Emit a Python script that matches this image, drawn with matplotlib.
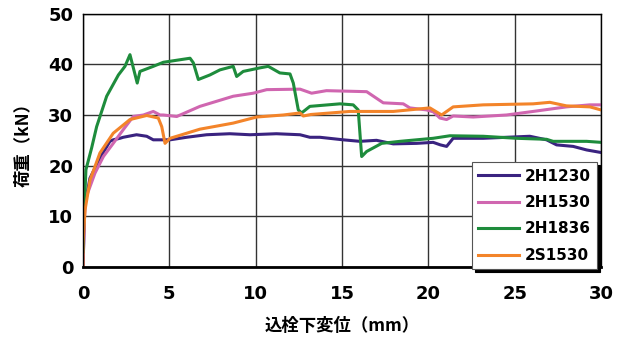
import matplotlib
matplotlib.use("Agg")
import matplotlib.pyplot as plt

plt.rcParams['font.family'] = ['Noto Sans CJK JP', 'DejaVu Sans']

# Load–displacement curves (displacement mm, load kN)
x_2h1230 = [0, 0.1, 0.4, 0.98, 1.56, 1.75, 2.14, 2.33, 3.1, 3.69, 4.07, 5.04, 6.0, 7.16, 8.5,
            9.67, 11.2, 12.57, 13.14, 13.72, 15.07, 16.04, 17.0, 17.97, 19.32, 20.28, 20.7,
            21.06, 21.44, 23.18, 25.88, 26.85, 27.43, 28.39, 29.17, 30.0]
y_2h1230 = [0, 12.0, 17.5, 21.5, 24.8, 25.1, 25.4, 25.6, 26.1, 25.8, 25.1, 25.1, 25.6, 26.1, 26.3,
            26.1, 26.3, 26.1, 25.6, 25.6, 25.1, 24.8, 25.0, 24.3, 24.4, 24.6, 24.1,
            23.8, 25.4, 25.4, 25.8, 25.1, 24.1, 23.8, 23.1, 22.6]

x_2h1530 = [0, 0.05, 0.12, 0.69, 1.18, 1.75, 2.33, 2.91, 3.5, 4.07, 4.46, 4.65, 5.43, 6.77, 8.7,
            9.86, 10.64, 12.57, 13.24, 14.1, 16.43, 17.39, 18.55, 18.93, 19.9, 20.3, 20.67,
            21.06, 21.44, 22.6, 24.53, 26.07, 28.0, 29.36, 30.0]
y_2h1530 = [0, 6.0, 13.2, 18.5, 21.8, 24.4, 27.1, 29.7, 30.0, 30.7, 30.0, 30.0, 29.7, 31.7, 33.7,
            34.3, 35.0, 35.1, 34.3, 34.8, 34.6, 32.4, 32.2, 31.4, 31.0, 30.6, 29.4,
            29.1, 29.8, 29.6, 30.0, 30.7, 31.6, 32.0, 32.0]

x_2h1836 = [0, 0.05, 0.17, 0.5, 0.79, 1.37, 2.05, 2.43, 2.72, 3.14, 3.3, 4.07, 4.65, 5.81, 6.2,
            6.39, 6.68, 7.35, 7.93, 8.7, 8.9, 9.28, 10.25, 10.73, 11.4, 11.99, 12.18, 12.47,
            12.66, 13.14, 14.88, 15.65, 15.94, 16.14, 16.43, 17.3, 18.36, 19.32, 20.28, 21.25,
            23.18, 25.11, 26.85, 27.23, 29.17, 30.0]
y_2h1836 = [3.0, 10.0, 19.2, 23.5, 27.7, 33.7, 37.9, 39.6, 41.9, 36.3, 38.6, 39.6, 40.4, 41.0, 41.2,
            40.3, 37.0, 37.9, 38.9, 39.6, 37.6, 38.6, 39.3, 39.6, 38.3, 38.1, 36.3, 31.0,
            30.4, 31.7, 32.2, 32.0, 31.0, 21.8, 22.8, 24.4, 24.8, 25.1, 25.4, 25.9,
            25.8, 25.4, 25.2, 24.8, 24.8, 24.6]

x_2s1530 = [0, 0.0, 0.12, 0.41, 0.98, 1.75, 2.72, 3.69, 4.36, 4.56, 4.75, 5.04, 5.43, 6.77, 8.7,
            10.06, 11.6, 12.57, 12.76, 13.2, 15.46, 17.97, 20.09, 20.77, 21.44, 23.18, 26.07,
            27.04, 28.0, 29.36, 30.0]
y_2s1530 = [0, 4.7, 11.3, 17.2, 22.5, 26.4, 29.1, 29.9, 29.4, 27.7, 24.4, 25.4, 25.8, 27.2, 28.4,
            29.6, 30.0, 30.4, 29.8, 30.1, 30.7, 30.7, 31.4, 30.0, 31.6, 32.0, 32.2,
            32.5, 31.8, 31.6, 31.0]

labels = ['2H1230', '2H1530', '2H1836', '2S1530']
colors = ['#3a2380', '#d066b0', '#1e8c3c', '#f3842a']

fig = plt.figure(figsize=(6.26, 3.41), dpi=100)
ax = fig.add_axes([0.1326, 0.217, 0.8274, 0.743])

series = [(x_2h1230, y_2h1230), (x_2h1530, y_2h1530), (x_2h1836, y_2h1836), (x_2s1530, y_2s1530)]
for (xs, ys), lab, col in zip(series, labels, colors):
    ax.plot(xs, ys, color=col, lw=2.2, label=lab, solid_joinstyle='round')

ax.set_xlim(0, 30)
ax.set_ylim(0, 50)
ax.set_xticks(range(0, 31, 5))
ax.set_yticks(range(0, 51, 10))
ax.grid(True, color='#333333', lw=1.0)
ax.set_axisbelow(True)
ax.tick_params(axis='x', length=0, pad=13, labelsize=13)
ax.tick_params(axis='y', length=0, pad=7, labelsize=13)
for t in ax.get_xticklabels() + ax.get_yticklabels():
    t.set_fontweight('bold')
    t.set_family('DejaVu Sans')
for s in ax.spines.values():
    s.set_linewidth(1.0)
ax.spines['bottom'].set_linewidth(2.0)

ax.set_xlabel('込栓下変位（mm）', fontsize=12.5, fontweight='bold', labelpad=10)
ax.set_ylabel('荷重（kN）', fontsize=12.5, fontweight='bold', labelpad=12)

leg = ax.legend(loc='lower right', bbox_to_anchor=(0.993, -0.008), frameon=True, fancybox=False,
                shadow={'color': 'black', 'alpha': 1.0}, framealpha=1, edgecolor='#555555',
                prop={'weight': 'bold', 'size': 11, 'family': 'DejaVu Sans'},
                handlelength=2.7, handletextpad=0.4,
                borderpad=0.4, labelspacing=0.75, borderaxespad=0)
leg.get_frame().set_linewidth(0.8)

fig.savefig('out.png', dpi=100)
